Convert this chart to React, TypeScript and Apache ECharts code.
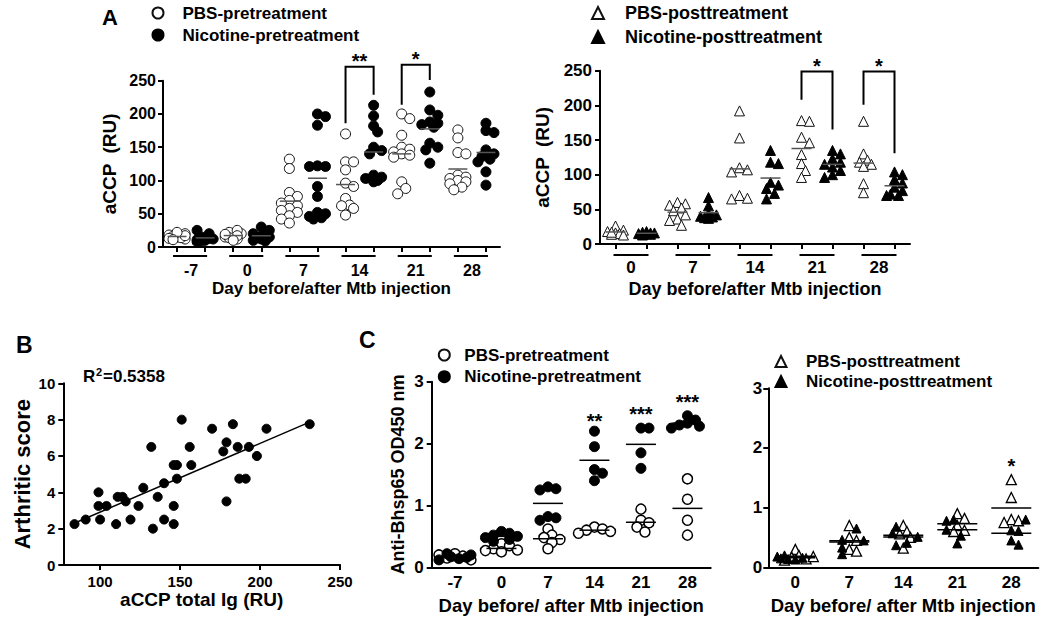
import React, { useEffect, useRef } from "react";
import * as echarts from "echarts";

const FONT = "'Liberation Sans', Arial, Helvetica, sans-serif";

// ---------- Panel A (left): aCCP, pretreatment ----------
const aLeftDays = ["-7", "0", "7", "14", "21", "28"];
const aLeftPBS = [
  [15, 12, 18, 20, 14, 16, 13, 17, 22, 11],
  [18, 20, 15, 22, 25, 12, 17, 14, 10, 19],
  [132, 118, 82, 76, 70, 66, 62, 58, 55, 52, 47, 42, 36],
  [170, 128, 128, 116, 96, 91, 73, 63, 62, 58, 48],
  [200, 193, 168, 150, 147, 143, 140, 138, 135, 98, 88, 80],
  [176, 164, 142, 140, 108, 105, 103, 100, 98, 95, 90, 86],
];
const aLeftNic = [
  [10, 12, 8, 15, 20, 25, 13, 9, 11, 14],
  [12, 15, 30, 20, 10, 18, 14, 25, 9, 16],
  [200, 196, 183, 122, 121, 121, 91, 76, 52, 50, 46, 44, 42],
  [213, 197, 182, 173, 150, 145, 140, 108, 105, 103, 98, 100],
  [233, 206, 198, 188, 186, 184, 180, 156, 150, 146, 126],
  [186, 175, 172, 146, 140, 136, 132, 128, 113, 93],
];
const aLeftSigGroup = [3, 4];
const aLeftSigLabel = ["**", "*"];
const aLeftBracketTop = [271, 274];
const aLeftBracketPBSEnd = [186, 214];
const aLeftBracketNicEnd = [229, 251];
const aLeftStarY = [280, 282];

// ---------- Panel A (right): aCCP, posttreatment ----------
const aRightDays = ["0", "7", "14", "21", "28"];
const aRightPBS = [
  [26, 20, 18, 16, 15, 14, 17, 13],
  [60, 58, 56, 52, 48, 42, 36, 34, 27],
  [192, 153, 110, 107, 104, 70, 66, 65],
  [178, 177, 154, 146, 129, 116, 106, 96],
  [177, 130, 121, 118, 115, 112, 87, 74],
];
const aRightNic = [
  [18, 16, 15, 14, 17, 15, 13, 16],
  [67, 55, 44, 42, 40, 39, 38, 37],
  [135, 118, 116, 89, 85, 80, 73, 65],
  [135, 130, 123, 118, 115, 111, 106, 100, 96],
  [104, 100, 93, 88, 82, 77, 72, 70, 70],
];
const aRightSigGroup = [3, 4];
const aRightSigLabel = ["*", "*"];
const aRightBracketTop = [249, 249];
const aRightBracketPBSEnd = [208, 201];
const aRightBracketNicEnd = [165, 131];
const aRightStarY = [257, 257];

// ---------- Panel B: correlation ----------
const bAccp = [84, 91, 99, 99, 100, 104, 110, 111, 114, 116, 119, 124, 127, 132, 133, 136, 140, 140, 146, 148, 146, 146, 148, 151, 156, 157, 170, 177, 179, 179, 183, 186, 187, 191, 193, 198, 204, 231];
const bScore = [2.25, 2.5, 4, 3.25, 2.5, 3.25, 2.25, 3.75, 3.75, 3.5, 2.5, 3.25, 4.25, 6.5, 2, 3.75, 4.5, 2.5, 5.5, 5.5, 3.25, 2.25, 4.75, 8, 6.5, 5.5, 7.5, 6.25, 6.75, 3.5, 7.75, 6.5, 4.75, 4.75, 6.5, 6, 7.5, 7.75];
const bXTicks = [100, 150, 200, 250];

// ---------- Panel C (left): Anti-Bhsp65, pretreatment ----------
const cLeftDays = ["-7", "0", "7", "14", "21", "28"];
const cLeftPBS = [
  [0.22, 0.18, 0.15, 0.12, 0.2],
  [0.38, 0.35, 0.3, 0.28, 0.27, 0.25],
  [0.62, 0.52, 0.48, 0.45, 0.4, 0.3],
  [0.65, 0.62, 0.6, 0.58, 0.55],
  [0.94, 0.76, 0.72, 0.65, 0.57],
  [1.43, 1.1, 0.76, 0.52],
];
const cLeftNic = [
  [0.2, 0.17, 0.14, 0.22, 0.12, 0.16],
  [0.58, 0.55, 0.52, 0.5, 0.48, 0.45, 0.42],
  [1.3, 1.27, 1.25, 0.82, 0.8, 0.76],
  [2.2, 1.95, 1.58, 1.52, 1.4],
  [2.25, 2.25, 1.85, 1.6],
  [2.45, 2.38, 2.33, 2.3, 2.28, 2.25],
];
const cLeftSigGroup = [3, 4, 5];
const cLeftSigLabel = ["**", "***", "***"];
const cLeftStarY = [2.37, 2.48, 2.67];

// ---------- Panel C (right): Anti-Bhsp65, posttreatment ----------
const cRightDays = ["0", "7", "14", "21", "28"];
const cRightPBS = [
  [0.3, 0.2, 0.17, 0.14, 0.12, 0.18],
  [0.7, 0.5, 0.45, 0.3, 0.27],
  [0.7, 0.6, 0.56, 0.5, 0.32],
  [0.9, 0.82, 0.7, 0.62, 0.6],
  [1.47, 1.17, 0.8, 0.78, 0.75],
];
const cRightNic = [
  [0.18, 0.15, 0.13, 0.2, 0.16, 0.14],
  [0.65, 0.46, 0.45, 0.33, 0.22],
  [0.68, 0.57, 0.51, 0.41, 0.37],
  [0.8, 0.78, 0.63, 0.53, 0.4],
  [0.8, 0.62, 0.61, 0.45, 0.38],
];
const cRightSigGroup = [4];
const cRightSigLabel = ["*"];
const cRightStarY = [1.7];

// ---------- helpers ----------
const mean = (a: number[]) => a.reduce((s, v) => s + v, 0) / a.length;

// compact beeswarm: horizontal offsets (in axis units) limited to +-maxOff px
function swarm(values: number[], center: number, pxX: number, pxY: number, diam: number, maxOff: number): number[] {
  const placed: { dx: number; y: number }[] = [];
  const out: number[] = [];
  const minD = diam * 0.7;
  const step = diam * 0.4;
  const cands: number[] = [0];
  for (let m = 1; m * step <= maxOff + 0.01; m++) cands.push(m * step, -m * step);
  for (const v of values) {
    const y = v * pxY;
    let chosen = 0;
    let best = -1;
    let found = false;
    for (const dx of cands) {
      const d = placed.length ? Math.min(...placed.map((p) => Math.hypot(p.dx - dx, p.y - y))) : Infinity;
      if (d >= minD) {
        chosen = dx;
        found = true;
        break;
      }
      if (d > best) {
        best = d;
        chosen = dx;
      }
    }
    if (!found && best < 0) chosen = 0;
    placed.push({ dx: chosen, y });
    out.push(center + chosen / pxX);
  }
  return out;
}

function points(groups: number[][], colOf: (g: number) => number, pxX: number, pxY: number, diam: number, maxOff: number) {
  const pts: number[][] = [];
  groups.forEach((vals, g) => {
    const xs = swarm(vals, colOf(g), pxX, pxY, diam, maxOff);
    xs.forEach((x, i) => pts.push([x, vals[i]]));
  });
  return pts;
}

// joint swarm for two groups sharing a column
function jointPoints(gA: number[][], gB: number[][], pxX: number, pxY: number, diam: number, maxOff: number) {
  const a: number[][] = [];
  const b: number[][] = [];
  gA.forEach((valsA, g) => {
    const valsB = gB[g];
    const all = [...valsA, ...valsB];
    const xs = swarm(all, g, pxX, pxY, diam, maxOff);
    xs.forEach((x, i) => (i < valsA.length ? a.push([x, all[i]]) : b.push([x, all[i]])));
  });
  return [a, b];
}

const meanRender = (hw: number, color: string, lw: number) => (params: any, api: any) => {
  const p = api.coord([api.value(0), api.value(1)]);
  return {
    type: "line",
    shape: { x1: p[0] - hw, y1: p[1], x2: p[0] + hw, y2: p[1] },
    style: { stroke: color, lineWidth: lw },
  };
};

const bracketRender = (params: any, api: any) => {
  const x1 = api.value(0), x2 = api.value(1), top = api.value(2), b1 = api.value(3), b2 = api.value(4);
  return {
    type: "polyline",
    shape: { points: [api.coord([x1, b1]), api.coord([x1, top]), api.coord([x2, top]), api.coord([x2, b2])] },
    style: { stroke: "#000", lineWidth: 2, fill: "none" },
  };
};

const starRender = (labels: string[], fontSize: number) => (params: any, api: any) => {
  const p = api.coord([api.value(0), api.value(1)]);
  return {
    type: "text",
    x: p[0],
    y: p[1],
    style: {
      text: labels[params.dataIndex],
      fontSize,
      fontWeight: "bold",
      fontFamily: FONT,
      fill: "#000",
      align: "center",
      verticalAlign: "middle",
    },
  };
};

const underlineRender = (dy: number, l: number, r: number) => (params: any, api: any) => {
  const p1 = api.coord([api.value(0), 0]);
  const p2 = api.coord([api.value(1), 0]);
  return {
    type: "line",
    shape: { x1: p1[0] - l, y1: p1[1] + dy, x2: p2[0] + r, y2: p1[1] + dy },
    style: { stroke: "#000", lineWidth: 2 },
  };
};

const axisLineStyle = { show: true, onZero: false, lineStyle: { color: "#000", width: 2 } };
const tickStyle = { show: true, length: 5, lineStyle: { color: "#000", width: 2 } };
const labelStyle = (fontSize: number, margin: number) => ({
  color: "#000",
  fontWeight: "bold" as const,
  fontSize,
  fontFamily: FONT,
  margin,
});
const nameStyle = (fontSize: number) => ({ color: "#000", fontWeight: "bold" as const, fontSize, fontFamily: FONT });

export default function App() {
  const ref = useRef<HTMLDivElement>(null);

  useEffect(() => {
    if (!ref.current) return;
    const chart = echarts.init(ref.current, undefined, { renderer: "svg" });

    // Panel A left
    const aLPBS = points(aLeftPBS, (g) => 2 * g, 28, 0.664, 10, 10);
    const aLNic = points(aLeftNic, (g) => 2 * g + 1, 28, 0.664, 10, 10);
    const aLMeans = [
      ...aLeftPBS.map((v, g) => [2 * g, mean(v)]),
      ...aLeftNic.map((v, g) => [2 * g + 1, mean(v)]),
    ];
    const aLBrackets = aLeftSigGroup.map((g, i) => [2 * g, 2 * g + 1, aLeftBracketTop[i], aLeftBracketPBSEnd[i], aLeftBracketNicEnd[i]]);
    const aLStars = aLeftSigGroup.map((g, i) => [2 * g + 0.5, aLeftStarY[i]]);
    const aLUnder = aLeftDays.map((_, g) => [2 * g, 2 * g + 1]);

    // Panel A right
    const aRPBS = points(aRightPBS, (g) => 2 * g, 31.2, 0.692, 10, 11);
    const aRNic = points(aRightNic, (g) => 2 * g + 1, 31.2, 0.692, 10, 11);
    const aRMeans = [
      ...aRightPBS.map((v, g) => [2 * g, mean(v)]),
      ...aRightNic.map((v, g) => [2 * g + 1, mean(v)]),
    ];
    const aRBrackets = aRightSigGroup.map((g, i) => [2 * g, 2 * g + 1, aRightBracketTop[i], aRightBracketPBSEnd[i], aRightBracketNicEnd[i]]);
    const aRStars = aRightSigGroup.map((g, i) => [2 * g + 0.5, aRightStarY[i]]);
    const aRUnder = aRightDays.map((_, g) => [2 * g, 2 * g + 1]);

    // Panel B regression
    const n = bAccp.length;
    const mx = mean(bAccp);
    const my = mean(bScore);
    let sxy = 0, sxx = 0;
    for (let i = 0; i < n; i++) {
      sxy += (bAccp[i] - mx) * (bScore[i] - my);
      sxx += (bAccp[i] - mx) ** 2;
    }
    const slope = sxy / sxx;
    const icpt = my - slope * mx;
    const xMin = Math.min(...bAccp) - 2;
    const xMax = Math.max(...bAccp) + 1;
    const bFit = [[xMin, icpt + slope * xMin], [xMax, icpt + slope * xMax]];

    // Panel C
    const [cLPBS, cLNic] = jointPoints(cLeftPBS, cLeftNic, 46.5, 61.9, 10, 16);
    const cLMeans = [...cLeftPBS.map((v, g) => [g, mean(v)]), ...cLeftNic.map((v, g) => [g, mean(v)])];
    const cLStars = cLeftSigGroup.map((g, i) => [g, cLeftStarY[i]]);
    const [cRPBS, cRNic] = jointPoints(cRightPBS, cRightNic, 54, 59.7, 9, 20);
    const cRMeans = [...cRightPBS.map((v, g) => [g, mean(v)]), ...cRightNic.map((v, g) => [g, mean(v)])];
    const cRStars = cRightSigGroup.map((g, i) => [g, cRightStarY[i]]);

    const hollow = { color: "#fff", borderColor: "#111", borderWidth: 1, opacity: 1 };
    const filled = { color: "#000", borderColor: "#000", borderWidth: 1, opacity: 1 };

    const option: any = {
      animation: false,
      backgroundColor: "#fff",
      textStyle: { fontFamily: FONT },
      grid: [
        { left: 163, top: 80.7, width: 337, height: 166.3 },
        { left: 600, top: 70.7, width: 310, height: 173.3 },
        { left: 63.3, top: 383.3, width: 276.8, height: 181.7 },
        { left: 431.7, top: 381.7, width: 279, height: 185.6 },
        { left: 768.3, top: 388.3, width: 270, height: 179 },
      ],
      xAxis: [
        // A left
        { type: "value", gridIndex: 0, min: -0.5, max: 11.5, show: false },
        {
          type: "category", gridIndex: 0, position: "bottom", data: aLeftDays.flatMap((d) => [d + "a", d + "b"]),
          axisLine: axisLineStyle, axisTick: { ...tickStyle, alignWithLabel: true }, axisLabel: { show: false },
        },
        {
          type: "category", gridIndex: 0, position: "bottom", data: aLeftDays,
          axisLine: { show: false }, axisTick: { show: false }, axisLabel: labelStyle(16, 15),
          name: "Day before/after Mtb injection", nameLocation: "middle", nameGap: 33, nameTextStyle: nameStyle(17),
        },
        // A right
        { type: "value", gridIndex: 1, min: -0.5, max: 9.5, show: false },
        {
          type: "category", gridIndex: 1, position: "bottom", data: aRightDays.flatMap((d) => [d + "a", d + "b"]),
          axisLine: axisLineStyle, axisTick: { ...tickStyle, alignWithLabel: true }, axisLabel: { show: false },
        },
        {
          type: "category", gridIndex: 1, position: "bottom", data: aRightDays,
          axisLine: { show: false }, axisTick: { show: false }, axisLabel: labelStyle(17, 15),
          name: "Day before/after Mtb injection", nameLocation: "middle", nameGap: 36, nameTextStyle: nameStyle(18),
        },
        // B
        {
          type: "value", gridIndex: 2, min: 77, max: 250, position: "bottom",
          axisLine: axisLineStyle,
          axisTick: { ...tickStyle, customValues: bXTicks },
          axisLabel: { ...labelStyle(15, 9), customValues: bXTicks },
          splitLine: { show: false },
          name: "aCCP total Ig (RU)", nameLocation: "middle", nameGap: 25, nameTextStyle: nameStyle(19),
        },
        // C left
        { type: "value", gridIndex: 3, min: -0.5, max: 5.5, show: false },
        {
          type: "category", gridIndex: 3, position: "bottom", data: cLeftDays,
          axisLine: axisLineStyle, axisTick: { show: false }, axisLabel: labelStyle(17, 7),
          name: "Day before/ after Mtb injection", nameLocation: "middle", nameGap: 29, nameTextStyle: nameStyle(18.5),
        },
        // C right
        { type: "value", gridIndex: 4, min: -0.5, max: 4.5, show: false },
        {
          type: "category", gridIndex: 4, position: "bottom", data: cRightDays,
          axisLine: axisLineStyle, axisTick: { show: false }, axisLabel: labelStyle(17, 7),
          name: "Day before/ after Mtb injection", nameLocation: "middle", nameGap: 29, nameTextStyle: nameStyle(18.5),
        },
      ],
      yAxis: [
        {
          type: "value", gridIndex: 0, min: 0, max: 250, interval: 50,
          axisLine: axisLineStyle, axisTick: tickStyle, axisLabel: labelStyle(16, 7), splitLine: { show: false },
          name: "aCCP  (RU)", nameLocation: "middle", nameGap: 44, nameTextStyle: nameStyle(19),
        },
        {
          type: "value", gridIndex: 1, min: 0, max: 250, interval: 50,
          axisLine: axisLineStyle, axisTick: tickStyle, axisLabel: labelStyle(17, 8), splitLine: { show: false },
          name: "aCCP  (RU)", nameLocation: "middle", nameGap: 48, nameTextStyle: nameStyle(19),
        },
        {
          type: "value", gridIndex: 2, min: 0, max: 10, interval: 2,
          axisLine: axisLineStyle, axisTick: tickStyle, axisLabel: labelStyle(15, 8), splitLine: { show: false },
          name: "Arthritic score", nameLocation: "middle", nameGap: 30, nameTextStyle: nameStyle(22),
        },
        {
          type: "value", gridIndex: 3, min: 0, max: 3, interval: 1,
          axisLine: axisLineStyle, axisTick: tickStyle, axisLabel: labelStyle(17, 8), splitLine: { show: false },
          name: "Anti-Bhsp65 OD450 nm", nameLocation: "middle", nameGap: 25, nameTextStyle: nameStyle(18),
        },
        {
          type: "value", gridIndex: 4, min: 0, max: 3, interval: 1,
          axisLine: axisLineStyle, axisTick: tickStyle, axisLabel: labelStyle(17, 6), splitLine: { show: false },
        },
      ],
      legend: [
        {
          left: 151.5, top: 4, orient: "vertical", padding: 0, itemGap: 4, itemWidth: 11, itemHeight: 11,
          selectedMode: false, data: ["PBS-pretreatment", "Nicotine-pretreatment"],
          textStyle: { fontSize: 17, fontWeight: "bold", color: "#000", lineHeight: 18, padding: [0, 0, 0, 14], fontFamily: FONT },
        },
        {
          left: 591, top: 4, orient: "vertical", padding: 0, itemGap: 6, itemWidth: 12, itemHeight: 12,
          selectedMode: false, data: ["PBS-posttreatment", "Nicotine-posttreatment"],
          textStyle: { fontSize: 18, fontWeight: "bold", color: "#000", lineHeight: 18, padding: [0, 0, 0, 16], fontFamily: FONT },
        },
        {
          left: 437.8, top: 346.5, orient: "vertical", padding: 0, itemGap: 4.7, itemWidth: 11, itemHeight: 11,
          selectedMode: false, data: ["PBS-pretreatment", "Nicotine-pretreatment"],
          textStyle: { fontSize: 17, fontWeight: "bold", color: "#000", lineHeight: 17, padding: [0, 0, 0, 9.5], fontFamily: FONT },
        },
        {
          left: 774.5, top: 353, orient: "vertical", padding: 0, itemGap: 3, itemWidth: 11, itemHeight: 11,
          selectedMode: false, data: ["PBS-posttreatment", "Nicotine-posttreatment"],
          textStyle: { fontSize: 17, fontWeight: "bold", color: "#000", lineHeight: 17, padding: [0, 0, 0, 14.5], fontFamily: FONT },
        },
      ],
      graphic: [
        { type: "text", left: 102, top: 6, style: { text: "A", fontSize: 22, fontWeight: "bold", fontFamily: FONT, fill: "#000" } },
        { type: "text", left: 16, top: 333, style: { text: "B", fontSize: 23, fontWeight: "bold", fontFamily: FONT, fill: "#000" } },
        { type: "text", left: 359, top: 328, style: { text: "C", fontSize: 23, fontWeight: "bold", fontFamily: FONT, fill: "#000" } },
        { type: "text", left: 83, top: 368, style: { text: "R", fontSize: 17, fontWeight: "bold", fontFamily: FONT, fill: "#000" } },
        { type: "text", left: 96, top: 366, style: { text: "2", fontSize: 11, fontWeight: "bold", fontFamily: FONT, fill: "#000" } },
        { type: "text", left: 103, top: 368, style: { text: "=0.5358", fontSize: 17, fontWeight: "bold", fontFamily: FONT, fill: "#000" } },
      ],
      series: [
        // ---- A left
        { type: "scatter", name: "PBS-pretreatment", xAxisIndex: 0, yAxisIndex: 0, symbol: "circle", symbolSize: 10, itemStyle: hollow, data: aLPBS, silent: true },
        { type: "scatter", name: "Nicotine-pretreatment", xAxisIndex: 0, yAxisIndex: 0, symbol: "circle", symbolSize: 10, itemStyle: filled, data: aLNic, silent: true },
        { type: "custom", xAxisIndex: 0, yAxisIndex: 0, renderItem: meanRender(9.5, "#555", 1.5), data: aLMeans, silent: true, z: 5 },
        { type: "custom", xAxisIndex: 0, yAxisIndex: 0, renderItem: bracketRender, data: aLBrackets, silent: true },
        { type: "custom", xAxisIndex: 0, yAxisIndex: 0, renderItem: starRender(aLeftSigLabel, 20), data: aLStars, silent: true },
        { type: "custom", xAxisIndex: 0, yAxisIndex: 0, renderItem: underlineRender(9, 4, 2), data: aLUnder, silent: true },
        // ---- A right
        { type: "scatter", name: "PBS-posttreatment", xAxisIndex: 3, yAxisIndex: 1, symbol: "triangle", symbolSize: 10, itemStyle: hollow, data: aRPBS, silent: true },
        { type: "scatter", name: "Nicotine-posttreatment", xAxisIndex: 3, yAxisIndex: 1, symbol: "triangle", symbolSize: 10, itemStyle: filled, data: aRNic, silent: true },
        { type: "custom", xAxisIndex: 3, yAxisIndex: 1, renderItem: meanRender(10, "#555", 1.5), data: aRMeans, silent: true, z: 5 },
        { type: "custom", xAxisIndex: 3, yAxisIndex: 1, renderItem: bracketRender, data: aRBrackets, silent: true },
        { type: "custom", xAxisIndex: 3, yAxisIndex: 1, renderItem: starRender(aRightSigLabel, 20), data: aRStars, silent: true },
        { type: "custom", xAxisIndex: 3, yAxisIndex: 1, renderItem: underlineRender(11, 2, 2), data: aRUnder, silent: true },
        // ---- B
        { type: "scatter", name: "Arthritic score", xAxisIndex: 6, yAxisIndex: 2, symbol: "circle", symbolSize: 9, itemStyle: filled, data: bAccp.map((x, i) => [x, bScore[i]]), silent: true },
        { type: "line", xAxisIndex: 6, yAxisIndex: 2, symbol: "none", data: bFit, lineStyle: { color: "#000", width: 1.5 }, silent: true },
        // ---- C left
        { type: "scatter", name: "PBS-pretreatment", xAxisIndex: 7, yAxisIndex: 3, symbol: "circle", symbolSize: 10, itemStyle: { color: "#fff", borderColor: "#000", borderWidth: 1.5, opacity: 1 }, data: cLPBS, silent: true },
        { type: "scatter", name: "Nicotine-pretreatment", xAxisIndex: 7, yAxisIndex: 3, symbol: "circle", symbolSize: 10, itemStyle: filled, data: cLNic, silent: true },
        { type: "custom", xAxisIndex: 7, yAxisIndex: 3, renderItem: meanRender(15, "#000", 1.5), data: cLMeans, silent: true, z: 5 },
        { type: "custom", xAxisIndex: 7, yAxisIndex: 3, renderItem: starRender(cLeftSigLabel, 20), data: cLStars, silent: true },
        // ---- C right
        { type: "scatter", name: "PBS-posttreatment", xAxisIndex: 9, yAxisIndex: 4, symbol: "triangle", symbolSize: 10, itemStyle: { color: "#fff", borderColor: "#000", borderWidth: 1.3, opacity: 1 }, data: cRPBS, silent: true },
        { type: "scatter", name: "Nicotine-posttreatment", xAxisIndex: 9, yAxisIndex: 4, symbol: "triangle", symbolSize: 9, itemStyle: filled, data: cRNic, silent: true },
        { type: "custom", xAxisIndex: 9, yAxisIndex: 4, renderItem: meanRender(20, "#000", 1.5), data: cRMeans, silent: true, z: 5 },
        { type: "custom", xAxisIndex: 9, yAxisIndex: 4, renderItem: starRender(cRightSigLabel, 20), data: cRStars, silent: true },
      ],
    };

    chart.setOption(option);
    return () => chart.dispose();
  }, []);

  return (
    <div
      ref={ref}
      style={{ position: "absolute", left: 0, top: 0, width: 1050, height: 624, background: "#fff" }}
    />
  );
}
